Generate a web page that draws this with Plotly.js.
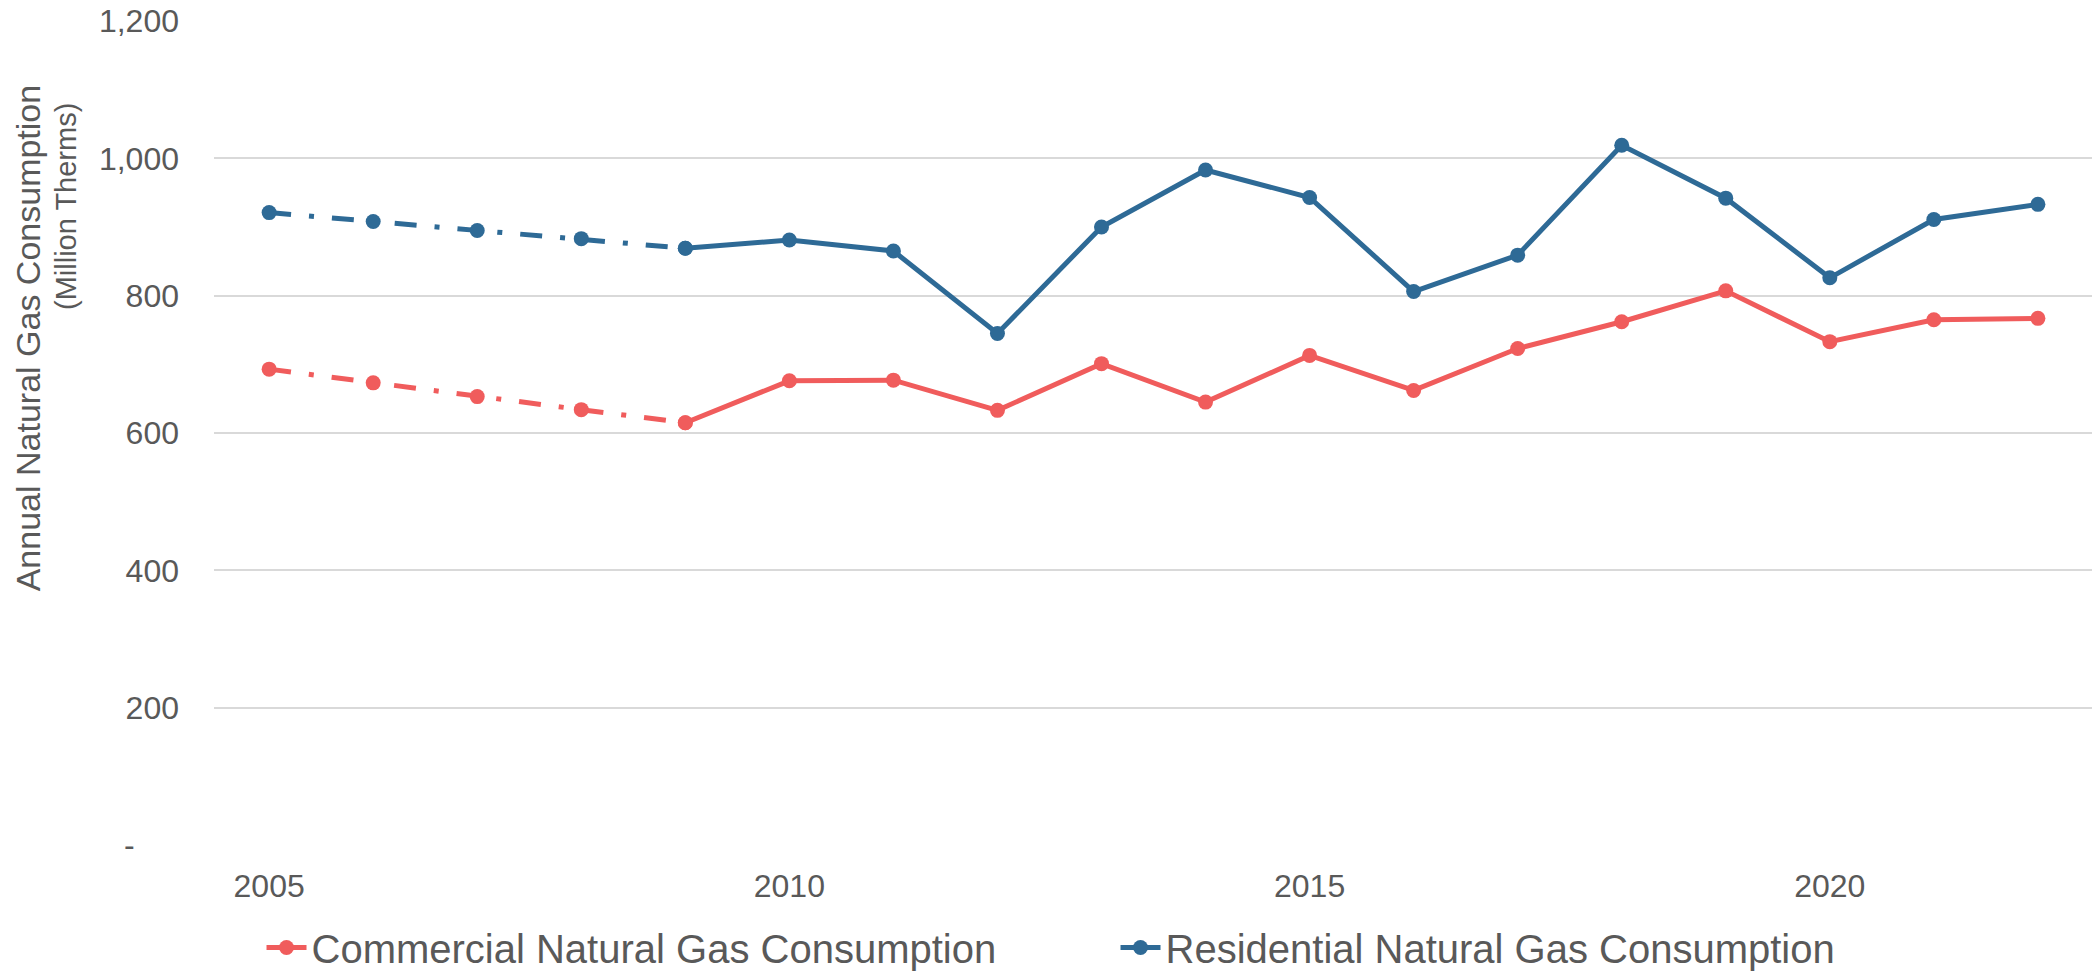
<!DOCTYPE html>
<html>
<head>
<meta charset="utf-8">
<script src="https://cdn.plot.ly/plotly-3.0.1.min.js"></script>
<style>
  html, body { margin: 0; padding: 0; background: #ffffff; }
  #chart { width: 2100px; height: 972px; }
</style>
</head>
<body>
<div id="chart"></div>
<script>
// ---- Data ----
var yearsEstimated = [2005, 2006, 2007, 2008, 2009];
var yearsMeasured = [2009, 2010, 2011, 2012, 2013, 2014, 2015, 2016, 2017, 2018, 2019, 2020, 2021, 2022];

var commercialEstimated = [693, 673, 653, 634, 615];
var commercialMeasured = [615, 676, 677, 633, 701, 645, 713, 662, 723, 762, 807, 733, 765, 767];

var residentialEstimated = [921, 908, 895, 883, 869];
var residentialMeasured = [869, 881, 865, 745, 900, 983, 943, 806, 859, 1019, 942, 826, 911, 933];

var yTickVals = [0, 200, 400, 600, 800, 1000, 1200];
var yTickText = ["-\u00a0\u00a0\u00a0\u00a0\u00a0", "200", "400", "600", "800", "1,000", "1,200"];
var xTickVals = [2005, 2010, 2015, 2020];

var commercialName = "Commercial Natural Gas Consumption";
var residentialName = "Residential Natural Gas Consumption";
var yTitleLine1 = "Annual Natural Gas Consumption";
var yTitleLine2 = "(Million Therms)";

// ---- Styles ----
var red = "#F05C5C";
var blue = "#2E6A96";
var textColor = "#595959";
var fontFamily = "'Liberation Sans', Arial, sans-serif";
var dashPattern = "22px,18px,5px,18px";
var lineW = 5;
var markSize = 15;

var traces = [
  {
    x: yearsEstimated, y: commercialEstimated, type: "scatter", mode: "lines+markers",
    line: { color: red, width: lineW, dash: dashPattern },
    marker: { color: red, size: markSize },
    showlegend: false
  },
  {
    x: yearsMeasured, y: commercialMeasured, type: "scatter", mode: "lines+markers",
    name: commercialName,
    line: { color: red, width: lineW },
    marker: { color: red, size: markSize }
  },
  {
    x: yearsEstimated, y: residentialEstimated, type: "scatter", mode: "lines+markers",
    line: { color: blue, width: lineW, dash: dashPattern },
    marker: { color: blue, size: markSize },
    showlegend: false
  },
  {
    x: yearsMeasured, y: residentialMeasured, type: "scatter", mode: "lines+markers",
    name: residentialName,
    line: { color: blue, width: lineW },
    marker: { color: blue, size: markSize }
  }
];

var layout = {
  width: 2100,
  height: 972,
  paper_bgcolor: "#ffffff",
  plot_bgcolor: "#ffffff",
  font: { family: fontFamily, color: textColor, size: 30 },
  margin: { l: 214, r: 8, t: 21, b: 127, pad: 0, autoexpand: false },
  xaxis: {
    range: [2004.47, 2022.52],
    tickvals: xTickVals,
    ticktext: xTickVals.map(String),
    showgrid: false,
    zeroline: false,
    showline: false,
    ticks: "",
    ticklabelstandoff: 19,
    tickfont: { size: 32, color: textColor, family: fontFamily }
  },
  yaxis: {
    range: [0, 1200],
    tickvals: yTickVals,
    ticktext: yTickText,
    showgrid: true,
    gridcolor: "#D9D9D9",
    gridwidth: 2,
    zeroline: false,
    showline: false,
    ticks: "",
    ticklabelstandoff: 34,
    tickfont: { size: 32, color: textColor, family: fontFamily }
  },
  showlegend: true,
  legend: {
    orientation: "h",
    x: 0.0253,
    xanchor: "left",
    y: -0.085,
    yanchor: "top",
    font: { size: 40, color: textColor, family: fontFamily },
    itemwidth: 40,
    entrywidth: 799,
    traceorder: "normal"
  },
  annotations: [
    {
      text: yTitleLine1,
      xref: "paper", yref: "paper",
      x: -0.099, y: 0.615,
      xanchor: "center", yanchor: "middle",
      textangle: -90,
      showarrow: false,
      font: { size: 34, color: textColor, family: fontFamily }
    },
    {
      text: yTitleLine2,
      xref: "paper", yref: "paper",
      x: -0.0785, y: 0.775,
      xanchor: "center", yanchor: "middle",
      textangle: -90,
      showarrow: false,
      font: { size: 29, color: textColor, family: fontFamily }
    }
  ]
};

Plotly.newPlot("chart", traces, layout, { staticPlot: true, displayModeBar: false });
</script>
</body>
</html>
